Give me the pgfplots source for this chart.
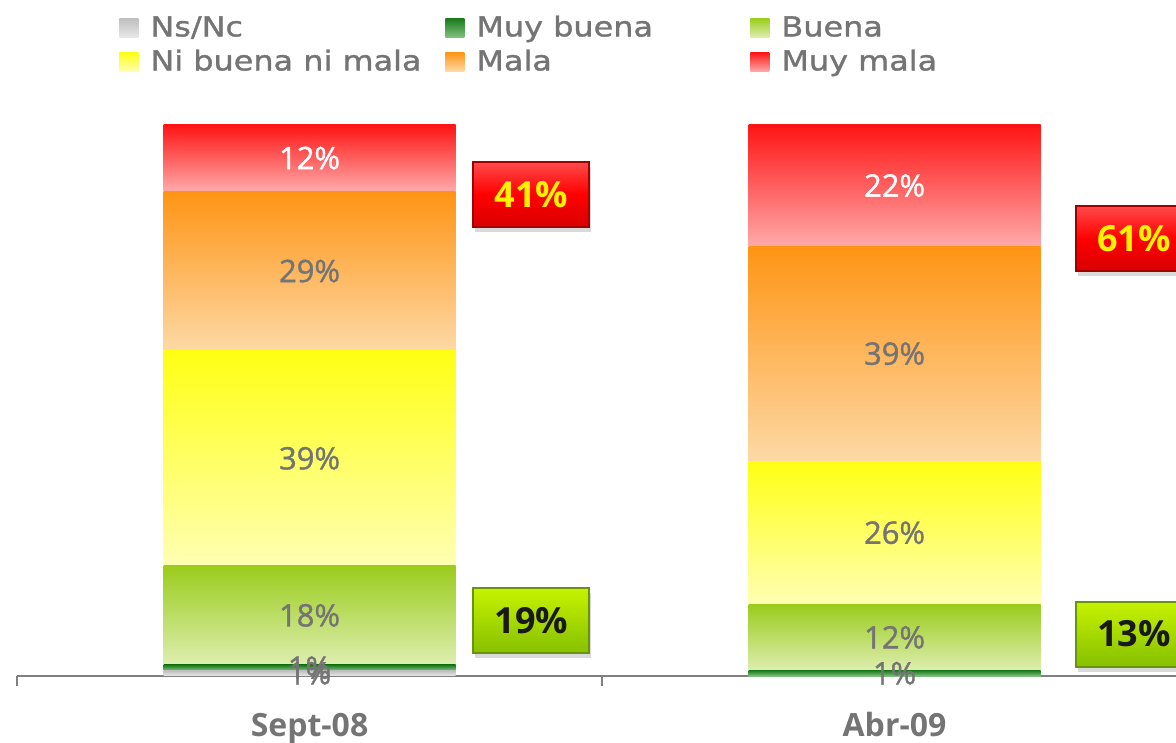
\documentclass[border=0pt]{standalone}
\usepackage{fontspec}
\setmainfont{Open Sans}
\newfontfamily\legfont[FakeStretch=1.16,UprightFeatures={FakeBold=1.2}]{DejaVu Sans}
\newfontfamily\labfont[UprightFeatures={FakeBold=1.2}]{Open Sans}
\usepackage{pgfplots}
\pgfplotsset{compat=1.18}
\usetikzlibrary{shadows}
\definecolor{txtgray}{HTML}{747474}
\definecolor{axisgray}{HTML}{808080}
\definecolor{nsncT}{HTML}{BFBFBF}\definecolor{nsncB}{HTML}{E8E8E8}
\definecolor{mbT}{HTML}{1B7A1B}\definecolor{mbB}{HTML}{7FC27F}
\definecolor{bT}{HTML}{9ACC1C}\definecolor{bB}{HTML}{DEEEB0}
\definecolor{niT}{HTML}{FFFF14}\definecolor{niB}{HTML}{FFFFB4}
\definecolor{maT}{HTML}{FF9414}\definecolor{maB}{HTML}{FDD9A6}
\definecolor{mmT}{HTML}{FF1414}\definecolor{mmB}{HTML}{FFAAAA}
\definecolor{calRedT}{HTML}{FF4A4A}\definecolor{calRedB}{HTML}{D80000}\definecolor{calRedD}{HTML}{A00000}
\definecolor{calGreenT}{HTML}{C6F200}\definecolor{calGreenB}{HTML}{86C000}\definecolor{calGreenD}{HTML}{6A9410}
\tikzset{
  callout/.style={minimum width=58pt, minimum height=32.5pt, inner sep=0pt,
    font=\bfseries\fontsize{18}{20}\selectfont, line width=1pt,
    drop shadow={opacity=0.3, shadow xshift=1pt, shadow yshift=-2.5pt}},
  redcall/.style={callout, top color=calRedT, bottom color=calRedB, middle color=red, draw=calRedD, text=yellow},
  greencall/.style={callout, top color=calGreenT, bottom color=calGreenB, draw=calGreenD, text=black!90},
}
\pgfplotsset{
  myleg/.style 2 args={legend image code/.code={%
    \shade[top color=#1, bottom color=#2] (0pt,-4.75pt) rectangle (9.5pt,4.75pt);
    \path (15.5pt,0pt);}},
  common/.style={
    at={(0pt,0pt)}, anchor=south west,
    scale only axis, width=585pt, height=275.5pt,
    xmin=-0.5, xmax=1.5, ymin=0, ymax=100,
    ybar stacked, bar width=146pt, clip=false,
    /pgf/number format/assume math mode=true,
    nodes near coords={\pgfmathfloatifflags{\pgfplotspointmeta}{0}{}{\pgfmathprintnumber{\pgfplotspointmeta}\%}},
    every node near coord/.append style={font=\labfont\fontsize{15.5}{18}\selectfont, text=txtgray, anchor=center},
  },
  sNs/.style={draw=none, top color=nsncT, bottom color=nsncB, myleg={nsncT}{nsncB}},
  sMb/.style={draw=none, top color=mbT, bottom color=mbB, myleg={mbT}{mbB}},
  sB/.style={draw=none, top color=bT, bottom color=bB, myleg={bT}{bB}},
  sNi/.style={draw=none, top color=niT, bottom color=niB, myleg={niT}{niB}},
  sMa/.style={draw=none, top color=maT, bottom color=maB, myleg={maT}{maB}},
  sMm/.style={draw=none, top color=mmT, bottom color=mmB, myleg={mmT}{mmB},
    every node near coord/.append style={text=white}},
}
\begin{document}
\begin{tikzpicture}
\useasboundingbox (-8.5pt,-33.5pt) rectangle (579.5pt,338pt);
% Sept-08
\begin{axis}[common,
  axis x line*=bottom, hide y axis,
  axis line style={draw=axisgray, line width=1.25pt},
  xtick={0,1}, xticklabels={Sept-08,Abr-09},
  major tick length=0pt,
  minor xtick={-0.5,0.5,1.5}, minor tick length=5pt, tick align=outside,
  minor tick style={draw=axisgray, line width=1.25pt},
  xticklabel style={font=\bfseries\fontsize{16}{19}\selectfont, text=txtgray, anchor=base, yshift=-30.5pt},
  legend columns=3,
  legend cell align=left,
  legend style={draw=none, fill=none, inner sep=0pt, at={(0.0872,1.1978)}, anchor=north west,
    column sep=0pt, row sep=5.5pt,
    font=\legfont\fontsize{13.75}{16}\selectfont,
    nodes={inner sep=0pt, text height=10pt, text depth=1.5pt, text=txtgray}},
]
\addplot[sNs] coordinates {(0,1)};
\addlegendentry{\makebox[147.5pt][l]{Ns/Nc}}
\addplot[sMb] coordinates {(0,1)};
\addlegendentry{\makebox[137pt][l]{Muy buena}}
\addplot[sB] coordinates {(0,18)};
\addlegendentry{Buena}
\addplot[sNi] coordinates {(0,39)};
\addlegendentry{\makebox[147.5pt][l]{Ni buena ni mala}}
\addplot[sMa] coordinates {(0,29)};
\addlegendentry{\makebox[137pt][l]{Mala}}
\addplot[sMm] coordinates {(0,12)};
\addlegendentry{Muy mala}
\node[redcall] at (axis cs:0.379,87.4) {41\%};
\node[greencall] at (axis cs:0.379,10.0) {19\%};
\end{axis}
% Abr-09
\begin{axis}[common, hide axis]
\addplot[sMb] coordinates {(1,1)};
\addplot[sB] coordinates {(1,12)};
\addplot[sNi] coordinates {(1,26)};
\addplot[sMa] coordinates {(1,39)};
\addplot[sMm] coordinates {(1,22)};
\node[redcall] at (axis cs:1.409,79.4) {61\%};
\node[greencall] at (axis cs:1.409,7.6) {13\%};
\end{axis}
\end{tikzpicture}
\end{document}
